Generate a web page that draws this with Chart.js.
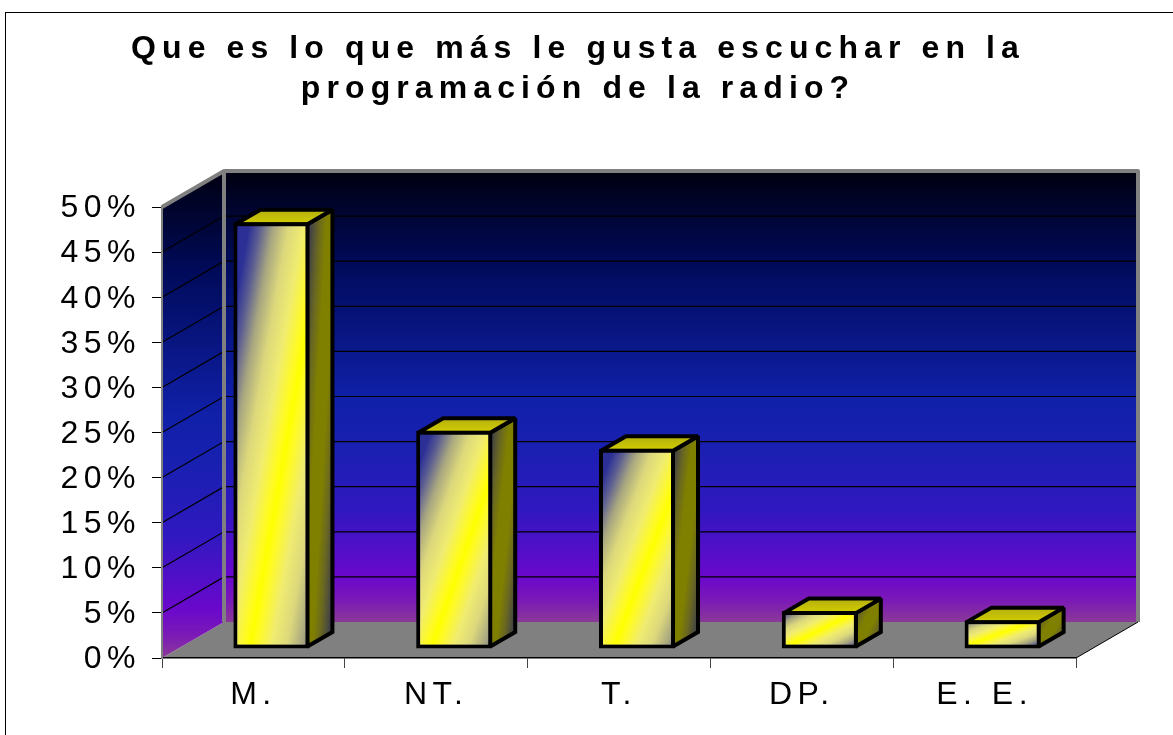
<!DOCTYPE html>
<html>
<head>
<meta charset="utf-8">
<title>Radio</title>
<script src="https://cdn.jsdelivr.net/npm/chart.js@4"></script>
<style>
    html, body { margin: 0; padding: 0; background: #fff; overflow: hidden; }
    #wrap { position: relative; width: 1173px; height: 735px; }
</style>
</head>
<body>
<div id="wrap"><canvas id="myChart" width="1173" height="735"></canvas></div>
<script>
const categories = ['M.', 'NT.', 'T.', 'DP.', 'E. E.'];
const values = [47.3, 24.2, 22.2, 4.2, 3.2];
const titleLines = ['Que es lo que más le gusta escuchar en la', 'programación de la radio?'];

// profundidad del grafico 3D (pared trasera y barras)
const WALL_DX = 62, WALL_DY = -36;
const BAR_SHIFT_X = 18, BAR_SHIFT_Y = -9;
const BAR_DX = 25, BAR_DY = -14.5;
const BAR_LINE = 4;

function wallGradient(ctx, top, bottom) {
    const g = ctx.createLinearGradient(0, top, 0, bottom);
    g.addColorStop(0, '#000010');
    g.addColorStop(0.2, '#000a58');
    g.addColorStop(0.5, '#1020a8');
    g.addColorStop(0.6, '#1820b0');
    g.addColorStop(0.75, '#3018c0');
    g.addColorStop(0.9, '#6a08cc');
    g.addColorStop(0.95, '#7a18b8');
    g.addColorStop(1, '#8a3a98');
    return g;
}

// degradado diagonal: la franja clara va de abajo-izquierda a arriba-derecha
function diagonalGradient(ctx, x, y, w, h, stops) {
    const L = Math.sqrt(w * w + h * h);
    const k = w * h / (L * L);
    const cx = x + w / 2, cy = y + h / 2;
    const g = ctx.createLinearGradient(cx - h * k, cy - w * k, cx + h * k, cy + w * k);
    stops.forEach(s => g.addColorStop(s[0], s[1]));
    return g;
}

function face(ctx, pts, fill) {
    ctx.beginPath();
    pts.forEach((p, i) => i ? ctx.lineTo(p[0], p[1]) : ctx.moveTo(p[0], p[1]));
    ctx.closePath();
    ctx.fillStyle = fill;
    ctx.fill();
    ctx.lineWidth = BAR_LINE;
    ctx.lineJoin = 'miter';
    ctx.miterLimit = 2;
    ctx.strokeStyle = '#000';
    ctx.stroke();
}

const frontStops = [[0, '#2c3096'], [0.07, '#5a5c92'], [0.16, '#a8a680'], [0.26, '#dcd87c'], [0.36, '#f0ec70'], [0.46, '#fffb20'], [0.5, '#ffff00'],
    [0.54, '#fffb20'], [0.64, '#f0ec70'], [0.74, '#dcd87c'], [0.84, '#a8a680'], [0.93, '#5a5c92'], [1, '#2c3096']];
const sideStops = [[0, '#303058'], [0.25, '#6a6820'], [0.4, '#808000'], [0.6, '#808000'], [0.75, '#6a6820'], [1, '#303058']];

const chart3d = {
    id: 'chart3d',
    beforeDraw(chart) {
        const ctx = chart.ctx;
        const a = chart.chartArea;
        const yScale = chart.scales.y;
        ctx.save();
        ctx.letterSpacing = '0px';
        // marco
        ctx.strokeStyle = '#000';
        ctx.lineWidth = 1;
        ctx.strokeRect(5.5, 12.5, 1300, 900);

        const bx = a.left + WALL_DX, by = a.top + WALL_DY;
        const bb = a.bottom + WALL_DY, br = a.right + WALL_DX;

        // piso
        ctx.beginPath();
        ctx.moveTo(a.left, a.bottom);
        ctx.lineTo(bx, bb);
        ctx.lineTo(br, bb);
        ctx.lineTo(a.right, a.bottom);
        ctx.closePath();
        ctx.fillStyle = '#808080';
        ctx.fill();

        // pared trasera
        ctx.fillStyle = wallGradient(ctx, by, bb);
        ctx.fillRect(bx, by, br - bx, bb - by);

        // pared lateral
        ctx.beginPath();
        ctx.moveTo(a.left, a.top);
        ctx.lineTo(bx, by);
        ctx.lineTo(bx, bb);
        ctx.lineTo(a.left, a.bottom);
        ctx.closePath();
        ctx.fillStyle = wallGradient(ctx, by, a.bottom);
        ctx.fill();

        // lineas de division
        ctx.strokeStyle = '#000';
        ctx.lineWidth = 1.2;
        yScale.ticks.forEach(t => {
            if (t.value === 0 || t.value === 50) return;
            const y = yScale.getPixelForValue(t.value);
            ctx.beginPath();
            ctx.moveTo(a.left, y);
            ctx.lineTo(bx, y + WALL_DY);
            ctx.lineTo(br, y + WALL_DY);
            ctx.stroke();
        });

        // bordes grises de las paredes
        ctx.strokeStyle = '#808080';
        ctx.lineWidth = 4;
        ctx.lineJoin = 'round';
        ctx.beginPath();
        ctx.moveTo(a.left, a.top);
        ctx.lineTo(bx, by);
        ctx.lineTo(br, by);
        ctx.lineTo(br, bb);
        ctx.moveTo(bx, by);
        ctx.lineTo(bx, bb);
        ctx.stroke();

        ctx.strokeStyle = '#000';
        ctx.lineWidth = 1;
        ctx.beginPath();
        ctx.moveTo(a.right, a.bottom);
        ctx.lineTo(br, bb);
        ctx.stroke();
        ctx.restore();

        // separacion de letras para ejes y titulo
        ctx.letterSpacing = '5.5px';
        const tb = chart.titleBlock;
        if (tb && !tb._wrapped) {
            const drawTitle = tb.draw;
            tb.draw = function () {
                ctx.save();
                ctx.letterSpacing = '6.1px';
                ctx.translate(40, 0);
                drawTitle.call(tb);
                ctx.restore();
            };
            tb._wrapped = true;
        }
    },
    beforeDatasetDraw(chart, args) {
        const ctx = chart.ctx;
        ctx.save();
        ctx.translate(BAR_SHIFT_X, BAR_SHIFT_Y);
        args.meta.data.forEach(el => {
            const inset = BAR_LINE / 2;
            const x0 = el.x - el.width / 2 + inset, x1 = el.x + el.width / 2 - inset;
            const yT = el.y + inset, yB = el.base - inset;
            const topFill = ctx.createLinearGradient(0, yT + BAR_DY, 0, yT);
            topFill.addColorStop(0, '#b4ae10');
            topFill.addColorStop(1, '#d2ce00');
            face(ctx, [[x1, yT], [x1 + BAR_DX, yT + BAR_DY], [x1 + BAR_DX, yB + BAR_DY], [x1, yB]],
                diagonalGradient(ctx, x1, yT + BAR_DY, BAR_DX, yB - yT - BAR_DY, sideStops));
            face(ctx, [[x0, yT], [x0 + BAR_DX, yT + BAR_DY], [x1 + BAR_DX, yT + BAR_DY], [x1, yT]], topFill);
        });
    },
    afterDatasetDraw(chart) {
        chart.ctx.restore();
    }
};

const ctx = document.getElementById('myChart').getContext('2d');
new Chart(ctx, {
    type: 'bar',
    data: {
        labels: categories,
        datasets: [{
            data: values,
            borderColor: '#000',
            borderWidth: BAR_LINE,
            borderSkipped: false,
            barPercentage: 0.416,
            categoryPercentage: 1,
            clip: false,
            backgroundColor: function (c) {
                const { x, y } = c.chart.scales;
                if (!x || !y || c.dataIndex === undefined) return '#ffff00';
                const w = (x.right - x.left) / categories.length * 0.416;
                const yTop = y.getPixelForValue(values[c.dataIndex]);
                const yBase = y.getPixelForValue(0);
                const xMid = x.getPixelForValue(c.dataIndex);
                if (![w, yTop, yBase, xMid].every(Number.isFinite)) return '#ffff00';
                return diagonalGradient(c.chart.ctx, xMid - w / 2 + BAR_SHIFT_X,
                    yTop + BAR_SHIFT_Y, w, yBase - yTop, frontStops);
            }
        }]
    },
    options: {
        responsive: false,
        animation: false,
        layout: { padding: { left: 0, right: 97, top: 0, bottom: 0 } },
        plugins: {
            legend: { display: false },
            tooltip: { enabled: false },
            title: {
                display: true,
                text: titleLines,
                color: '#000',
                font: { family: 'Liberation Sans', size: 32, weight: 'bold', lineHeight: 1.25 },
                padding: { top: 29, bottom: 98 }
            }
        },
        scales: {
            x: {
                afterFit: s => { s.height = 77; },
                border: { color: '#000', width: 1.5 },
                grid: { drawOnChartArea: false, tickLength: 10, color: '#444' },
                ticks: { color: '#000', padding: 8, font: { family: 'Liberation Sans', size: 32 } }
            },
            y: {
                min: 0,
                max: 50,
                afterFit: s => { s.width = 162; },
                border: { color: '#808080', width: 2 },
                grid: { drawOnChartArea: false, tickLength: 10, color: '#000' },
                ticks: {
                    stepSize: 5,
                    color: '#000',
                    padding: 11,
                    labelOffset: 1.5,
                    font: { family: 'Liberation Sans', size: 32 },
                    callback: v => v + '%'
                }
            }
        }
    },
    plugins: [chart3d]
});
</script>
</body>
</html>
